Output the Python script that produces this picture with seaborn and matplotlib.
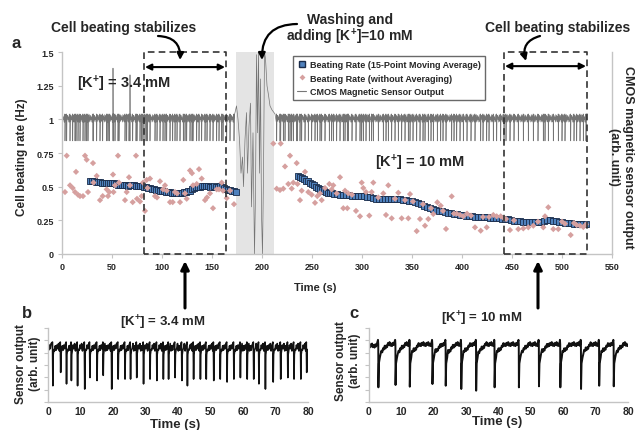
import numpy as np
import pandas as pd
import matplotlib
matplotlib.use('Agg')
import matplotlib.pyplot as plt
import seaborn as sns
from matplotlib.lines import Line2D

# ---------------- data ----------------
# 15-point moving average of beating rate (Hz)
ma_t_left = [28, 30, 32, 34, 36, 38, 40, 42, 44, 46, 48, 50, 52, 54, 56, 58, 60, 62, 64, 66,
             68, 70, 72, 74, 76, 78, 80, 82, 84, 86, 88, 90, 92, 94, 96, 98, 100, 102, 104, 106,
             108, 110, 112, 114, 116, 118, 120, 122, 124, 126, 128, 130, 132, 134, 136, 138, 140,
             142, 144, 146, 148, 150, 152, 154, 156, 158, 160, 162, 164, 166, 168, 170, 172, 173.5]
ma_v_left = [0.545, 0.54, 0.54, 0.535, 0.535, 0.532, 0.53, 0.53, 0.525, 0.528, 0.53, 0.527, 0.525,
             0.52, 0.515, 0.512, 0.51, 0.515, 0.512, 0.505, 0.51, 0.515, 0.51, 0.505, 0.505, 0.507,
             0.505, 0.5, 0.495, 0.49, 0.49, 0.483, 0.48, 0.478, 0.475, 0.47, 0.47, 0.468, 0.463,
             0.46, 0.458, 0.455, 0.455, 0.453, 0.452, 0.45, 0.455, 0.458, 0.46, 0.465, 0.47, 0.48,
             0.488, 0.495, 0.498, 0.5, 0.505, 0.505, 0.507, 0.505, 0.5, 0.5, 0.502, 0.5, 0.5, 0.502,
             0.495, 0.49, 0.483, 0.478, 0.472, 0.468, 0.465, 0.463]
ma_t_right = [236, 238, 240, 242, 244, 246, 248, 250, 252, 254, 256, 258, 260, 262, 264, 266, 268,
              270, 272, 275, 278, 281, 284, 287, 290, 293, 296, 299, 302, 305, 308, 311, 314, 317,
              320, 323, 326, 329, 332, 335, 338, 341, 344, 347, 350, 353, 356, 359, 362, 365, 368,
              371, 374, 377, 380, 383, 386, 389, 392, 395, 398, 401, 404, 407, 410, 413, 416, 419,
              422, 425, 428, 431, 434, 437, 440, 443, 446, 449, 452, 455, 458, 461, 464, 467, 470,
              473, 476, 479, 482, 485, 488, 491, 494, 497, 500, 503, 506, 509, 512, 515, 518, 521, 524]
ma_v_right = [0.577, 0.57, 0.562, 0.555, 0.545, 0.54, 0.53, 0.518, 0.51, 0.5, 0.49, 0.483, 0.475,
              0.468, 0.46, 0.455, 0.452, 0.45, 0.448, 0.445, 0.44, 0.438, 0.437, 0.435, 0.433,
              0.432, 0.43, 0.43, 0.428, 0.425, 0.42, 0.415, 0.41, 0.41, 0.408, 0.408, 0.408, 0.41,
              0.412, 0.41, 0.405, 0.4, 0.398, 0.395, 0.39, 0.385, 0.38, 0.37, 0.36, 0.35, 0.34,
              0.333, 0.328, 0.323, 0.318, 0.313, 0.308, 0.303, 0.299, 0.295, 0.29, 0.287, 0.284,
              0.281, 0.279, 0.277, 0.276, 0.275, 0.273, 0.272, 0.27, 0.268, 0.267, 0.265, 0.263,
              0.261, 0.258, 0.252, 0.247, 0.245, 0.243, 0.24, 0.239, 0.237, 0.236, 0.235, 0.235,
              0.236, 0.247, 0.255, 0.25, 0.245, 0.242, 0.239, 0.236, 0.233, 0.23, 0.227, 0.225,
              0.224, 0.222, 0.221, 0.22]

# beating rate without averaging (Hz) - one point per beat
raw_t_left = [3, 4.7, 8, 10.7, 13, 14, 16, 18, 21, 23, 24.7, 26, 31, 31.5, 34.7, 38, 40.7, 44.7,
              46, 47.3, 51, 51.5, 53, 56, 57, 63, 64.7, 67, 68, 70.7, 74, 75, 78, 79.7, 81, 83,
              84.7, 85.5, 88, 93, 95, 98, 101, 103, 104.7, 108, 110.7, 113, 115, 118, 121.3, 123,
              124.7, 128, 130, 131, 134.7, 137, 139.7, 143, 145, 148, 151, 154.7, 157, 159.7,
              161, 164.7, 168, 172]
raw_v_left = [0.46, 0.73, 0.51, 0.49, 0.46, 0.61, 0.44, 0.43, 0.43, 0.73, 0.70, 0.46, 0.675, 0.53,
              0.58, 0.40, 0.43, 0.48, 0.43, 0.46, 0.59, 0.46, 0.51, 0.73, 0.53, 0.40, 0.46, 0.57,
              0.51, 0.385, 0.73, 0.41, 0.39, 0.43, 0.53, 0.32, 0.55, 0.49, 0.56, 0.43, 0.42, 0.54,
              0.48, 0.51, 0.47, 0.385, 0.385, 0.46, 0.45, 0.385, 0.55, 0.45, 0.41, 0.62, 0.60,
              0.51, 0.52, 0.63, 0.56, 0.40, 0.42, 0.45, 0.34, 0.48, 0.48, 0.53, 0.47, 0.415, 0.47,
              0.37]
raw_t_right = [211.3, 214.7, 218, 218.7, 221.3, 223, 226.3, 228, 229.7, 231.3, 234.7, 235.5, 238,
               239.7, 243, 246.3, 249.7, 253, 255.3, 258, 259.7, 263, 267.3, 269.7, 271.3, 274.7,
               278, 281.3, 283, 285.3, 286.3, 290, 294, 298, 299.7, 301.3, 304, 307.3, 309.7,
               311.3, 316.3, 321.3, 324, 326.3, 329.7, 333, 336.3, 339.7, 343, 346.3, 348, 351,
               354.7, 358, 361, 363, 366.3, 369, 371.3, 375.3, 378.7, 381, 384, 389.7, 392,
               394.7, 398, 401.3, 405, 409, 413, 418.7, 421, 424.7, 427, 431.3, 434.7, 438.7,
               442, 444, 448, 452, 456.3, 461.3, 466.3, 471.3, 476, 481.3, 483, 486.3, 491.3,
               496.3, 500, 503, 508.7, 512, 514.7, 518, 521.3, 524]
raw_v_right = [0.82, 0.485, 0.475, 0.82, 0.485, 0.65, 0.52, 0.73, 0.486, 0.53, 0.675, 0.52, 0.40,
               0.47, 0.61, 0.46, 0.44, 0.38, 0.43, 0.45, 0.40, 0.49, 0.52, 0.48, 0.51, 0.45, 0.57,
               0.34, 0.47, 0.34, 0.45, 0.44, 0.32, 0.28, 0.53, 0.49, 0.46, 0.285, 0.46, 0.53,
               0.42, 0.45, 0.29, 0.51, 0.265, 0.41, 0.455, 0.265, 0.40, 0.265, 0.445, 0.39, 0.17,
               0.26, 0.37, 0.21, 0.26, 0.34, 0.297, 0.384, 0.359, 0.32, 0.186, 0.428, 0.30, 0.30,
               0.29, 0.28, 0.30, 0.285, 0.198, 0.173, 0.275, 0.198, 0.275, 0.29, 0.28, 0.28,
               0.265, 0.26, 0.178, 0.25, 0.185, 0.19, 0.198, 0.21, 0.24, 0.198, 0.28, 0.347,
               0.185, 0.185, 0.24, 0.225, 0.141, 0.23, 0.215, 0.21, 0.2, 0.22]

# CMOS sensor output (arb. unit, drawn on rate axis scale)
cmos_baseline = 1.0
cmos_spike_min = 0.84
cmos_noise_levels = [0.985, 1.03, 0.995, 1.02, 0.98, 1.035]
cmos_up_t = [51, 68]
cmos_up_v = [1.38, 1.33]
wash_t = [173, 174.5, 176, 177.5, 179, 180.5, 181.5, 183, 184.5, 185.5, 187, 188.5, 189.5, 191,
          192.5, 193.5, 194.5, 195.5, 196.5, 197.5, 198.5, 199.5, 200.5, 201.5, 202.5, 203.5,
          205, 206.5, 208, 210, 213]
wash_v = [1.05, 1.1, 1.0, 0.85, 0.6, 0.72, 0.5, 0.85, 1.05, 0.6, 0.95, 1.12, 0.35, 0.9, 0.0,
          0.45, 1.48, 0.9, 1.5, 0.6, 1.3, 0.3, 0.0, 0.6, 1.5, 1.45, 1.25, 1.18, 1.1, 1.07, 1.04]

# panel b: [K+] = 3.4 mM
b_t = [1.5, 3.9, 5.7, 7.2, 9.1, 11.3, 12.9, 15.1, 17.0, 19.6, 21.6, 23.7, 25.4, 27.3, 29.4,
       31.4, 33.5, 35.5, 37.1, 39.1, 41.2, 42.9, 44.8, 46.9, 48.7, 51.0, 53.0, 55.1, 57.2, 59.2,
       61.3, 63.3, 64.9, 66.9, 69.3, 71.6, 73.8, 75.7, 77.8, 79.6]
b_min = [0.22, 0.40, 0.245, 0.29, 0.22, 0.175, 0.33, 0.29, 0.36, 0.175, 0.31, 0.31, 0.31, 0.33,
         0.245, 0.31, 0.29, 0.31, 0.31, 0.33, 0.29, 0.22, 0.31, 0.31, 0.31, 0.29, 0.31, 0.27,
         0.31, 0.33, 0.31, 0.31, 0.245, 0.175, 0.27, 0.31, 0.33, 0.31, 0.31, 0.40]
b_noise_levels = [0.70, 0.77, 0.72, 0.79, 0.69, 0.76]
# panel c: [K+] = 10 mM
c_t = [2.9, 8.2, 12.6, 19.6, 23.7, 28.5, 33.1, 38.8, 46.3, 52.5, 59.1, 65.5, 71.1, 75.6]
c_min = [0.198, 0.23, 0.207, 0.243, 0.22, 0.176, 0.153, 0.198, 0.198, 0.212, 0.198, 0.176,
         0.22, 0.212]
c_noise = [-0.025, 0.02, -0.01, 0.03, -0.02, 0.01]

main_xticks = list(range(0, 551, 50))
main_yticks = [0, 0.25, 0.5, 0.75, 1, 1.25, 1.5]
main_yticklabels = ['0', '0.25', '0.5', '0.75', '1', '1.25', '1.5']
small_xticks = list(range(0, 81, 10))

# ---------------- style ----------------
sns.set_theme(style='white')
plt.rcParams['font.family'] = ['Liberation Sans', 'DejaVu Sans']
plt.rcParams['font.weight'] = 'bold'
plt.rcParams['mathtext.fontset'] = 'custom'
plt.rcParams['mathtext.rm'] = 'Liberation Sans:bold'
plt.rcParams['mathtext.bf'] = 'Liberation Sans:bold'
plt.rcParams['mathtext.it'] = 'Liberation Sans:bold'

W, H = 636, 431
fig = plt.figure(figsize=(W / 100, H / 100), dpi=100)


def fx(x):
    return x / W


def fy(y):
    return 1 - y / H


def P(x, y):
    return (fx(x), fy(y))


SPINE = '#c4c4c4'

# ---------------- main panel a ----------------
ax = fig.add_axes([fx(62), fy(255), fx(612) - fx(62), fy(53) - fy(255)])
ax.axvspan(174, 212, color='#e4e4e4', lw=0, zorder=0)

# build CMOS trace from the beat times (spike per beat + fuzzy baseline in between)
beats = [t for t in raw_t_left + raw_t_right if not (172.5 < t < 213.5)]
pts = [(0.0, cmos_baseline)]
k = 0
for s in np.arange(0.3, beats[0] - 0.5, 0.45):
    pts.append((s, cmos_noise_levels[k % len(cmos_noise_levels)]))
    k += 1
for i, t in enumerate(beats):
    pts += [(t - 0.4, 0.98), (t - 0.1, 1.04), (t, cmos_spike_min), (t + 0.3, 1.03)]
    nxt = beats[i + 1] if i + 1 < len(beats) else 525.0
    if nxt - t > 20:
        nxt = 173.0
    for s in np.arange(t + 0.7, nxt - 0.5, 0.45):
        pts.append((s, cmos_noise_levels[k % len(cmos_noise_levels)]))
        k += 1
for t, v in zip(cmos_up_t, cmos_up_v):
    pts += [(t - 0.05, 1.0), (t, v), (t + 0.05, 1.0)]
pts += list(zip(wash_t, wash_v))
pts.append((525.0, cmos_baseline))
pts.sort(key=lambda p: p[0])
cmos = pd.DataFrame(pts, columns=['t', 'v'])
sns.lineplot(data=cmos, x='t', y='v', ax=ax, color='#747474', lw=0.5, estimator=None,
             sort=False, zorder=1)

ma = pd.DataFrame({'t': ma_t_left + ma_t_right, 'v': ma_v_left + ma_v_right})
raw = pd.DataFrame({'t': raw_t_left + raw_t_right, 'v': raw_v_left + raw_v_right})
sns.scatterplot(data=ma, x='t', y='v', ax=ax, marker='s', s=20, color='#4F81BD',
                edgecolor='#1a2c4a', linewidth=0.6, zorder=3)
sns.scatterplot(data=raw, x='t', y='v', ax=ax, marker='D', s=10, color='#D6A09F',
                edgecolor='none', zorder=4)

ax.set_xlim(0, 550)
ax.set_ylim(0, 1.5)
ax.set_xticks(main_xticks)
ax.set_yticks(main_yticks)
ax.set_yticklabels(main_yticklabels)
ax.set_xlabel('')
ax.set_ylabel('')
ax.tick_params(labelsize=6.5, length=3, width=0.8, color=SPINE, left=True, bottom=True, pad=3)
for s in ['left', 'bottom', 'right']:
    ax.spines[s].set_color(SPINE)
    ax.spines[s].set_linewidth(1.0)
ax.spines['top'].set_visible(False)

# dashed boxes
for x0, x1 in [(82, 164), (442, 525)]:
    ax.plot([x0, x0, x1, x1, x0], [0, 1.5, 1.5, 0, 0], ls=(0, (4, 2.5)), color='#333333',
            lw=1.2, zorder=5, clip_on=False)
# double arrows
for x0, x1, yv in [(83, 163, 1.388), (443, 524, 1.395)]:
    ax.annotate('', xy=(x1, yv), xytext=(x0, yv),
                arrowprops=dict(arrowstyle='<|-|>', color='black', lw=1.5, mutation_scale=9,
                                shrinkA=0, shrinkB=0))

# legend
handles = [
    Line2D([0], [0], marker='s', ls='none', markerfacecolor='#4F81BD',
           markeredgecolor='#1a2c4a', markersize=4),
    Line2D([0], [0], marker='D', ls='none', markerfacecolor='#D6A09F',
           markeredgecolor='none', markersize=3),
    Line2D([0], [0], color='#777777', lw=0.8),
]
labels = ['Beating Rate (15-Point Moving Average)', 'Beating Rate (without Averaging)',
          'CMOS Magnetic Sensor Output']
leg = fig.legend(handles, labels, loc='upper left', bbox_to_anchor=P(293, 57),
                 prop={'weight': 'bold', 'size': 6.5}, frameon=True, fancybox=False,
                 edgecolor='#444444', borderpad=0.45, handlelength=1.0, handletextpad=0.4,
                 labelspacing=0.5, borderaxespad=0)
leg.get_frame().set_linewidth(1.0)

# texts
fig.text(*P(12, 44), 'a', fontsize=12, fontweight='bold', ha='left', va='center')
fig.text(*P(124, 28), 'Cell beating stabilizes', fontsize=10, fontweight='bold',
         ha='center', va='center')
fig.text(*P(558, 28), 'Cell beating stabilizes', fontsize=10, fontweight='bold',
         ha='center', va='center')
fig.text(*P(350, 20), 'Washing and', fontsize=10, fontweight='bold', ha='center', va='center')
fig.text(*P(350, 37), r'adding [K$^{+}$]=10 mM', fontsize=10, fontweight='bold',
         ha='center', va='center')
fig.text(*P(124, 84), r'[K$^{+}$] = 3.4 mM', fontsize=10.5, fontweight='bold',
         ha='center', va='center')
fig.text(*P(420, 163), r'[K$^{+}$] = 10 mM', fontsize=10.5, fontweight='bold',
         ha='center', va='center')
fig.text(*P(315, 288), 'Time (s)', fontsize=8, fontweight='bold', ha='center', va='center')
fig.text(*P(22, 157), 'Cell beating rate (Hz)', fontsize=8.5, fontweight='bold',
         ha='center', va='center', rotation=90)
fig.text(*P(621, 157), 'CMOS magnetic sensor output\n(arb. unit)', fontsize=9,
         fontweight='bold', ha='center', va='center', rotation=270, multialignment='center')

# curved arrows
arw = dict(arrowstyle='-|>', color='black', lw=1.6, mutation_scale=10, shrinkA=0, shrinkB=0)
fig.add_artist(matplotlib.patches.FancyArrowPatch(P(158, 37), P(180, 61),
               connectionstyle='arc3,rad=-0.5', transform=fig.transFigure, **arw))
fig.add_artist(matplotlib.patches.FancyArrowPatch(P(297, 25), P(262, 61),
               connectionstyle='arc3,rad=0.5', transform=fig.transFigure, **arw))
fig.add_artist(matplotlib.patches.FancyArrowPatch(P(540, 37), P(526, 62),
               connectionstyle='arc3,rad=0.5', transform=fig.transFigure, **arw))
arw2 = dict(arrowstyle='-|>', color='black', lw=2.2, mutation_scale=12, shrinkA=0, shrinkB=0)
fig.add_artist(matplotlib.patches.FancyArrowPatch(P(185, 309), P(185, 262),
               transform=fig.transFigure, **arw2))
fig.add_artist(matplotlib.patches.FancyArrowPatch(P(538, 309), P(538, 262),
               transform=fig.transFigure, **arw2))


# ---------------- panels b, c ----------------
def build_b(times, mins):
    p = [(0.0, 0.73)]
    k = 0
    for s in np.arange(0.2, times[0] - 0.35, 0.25):
        p.append((s, b_noise_levels[k % len(b_noise_levels)]))
        k += 1
    for i, (t, d) in enumerate(zip(times, mins)):
        p += [(t - 0.12, 0.81), (t, d), (t + 0.1, 0.64), (t + 0.3, 0.71)]
        nxt = times[i + 1] if i + 1 < len(times) else 80.0
        for s in np.arange(t + 0.5, nxt - 0.25, 0.25):
            p.append((s, b_noise_levels[k % len(b_noise_levels)]))
            k += 1
    p = sorted(p, key=lambda q: q[0])
    return pd.DataFrame([q for q in p if 0 <= q[0] <= 80], columns=['t', 'v'])


def build_c(times, mins):
    p = [(0.0, 0.76)]
    k = 0
    for s in np.arange(0.2, times[0] - 0.2, 0.25):
        p.append((s, 0.76 + c_noise[k % len(c_noise)]))
        k += 1
    for i, (t, d) in enumerate(zip(times, mins)):
        p += [(t - 0.12, 0.84), (t - 0.04, 0.78), (t, d), (t + 0.15, 0.52), (t + 0.45, 0.6)]
        nxt = times[i + 1] if i + 1 < len(times) else 80.0
        for s in np.arange(t + 0.7, nxt - 0.15, 0.25):
            frac = min(1.0, (s - t) / 3.0)
            p.append((s, 0.64 + 0.14 * frac + c_noise[k % len(c_noise)]))
            k += 1
    p = sorted(p, key=lambda q: q[0])
    return pd.DataFrame([q for q in p if 0 <= q[0] <= 80], columns=['t', 'v'])


def style_small(a):
    a.set_xlim(0, 80)
    a.set_ylim(0, 1)
    a.set_xticks(small_xticks)
    a.set_yticks(np.linspace(0, 1, 7))
    a.set_yticklabels([])
    a.set_xlabel('')
    a.set_ylabel('')
    a.tick_params(axis='x', labelsize=7.5, length=0, pad=3)
    a.tick_params(axis='y', length=3, width=0.8, color=SPINE, left=True)
    for s in ['left', 'bottom']:
        a.spines[s].set_color(SPINE)
        a.spines[s].set_linewidth(1.0)
    a.spines['top'].set_visible(False)
    a.spines['right'].set_visible(False)


axb = fig.add_axes([fx(48), fy(403), fx(308) - fx(48), fy(329) - fy(403)])
sns.lineplot(data=build_b(b_t, b_min), x='t', y='v', ax=axb, color='#111111', lw=1.15,
             estimator=None, sort=False)
style_small(axb)

axc = fig.add_axes([fx(369), fy(403), fx(628) - fx(369), fy(329) - fy(403)])
sns.lineplot(data=build_c(c_t, c_min), x='t', y='v', ax=axc, color='#111111', lw=1.4,
             estimator=None, sort=False)
style_small(axc)

fig.text(*P(27, 313), 'b', fontsize=12, fontweight='bold', ha='center', va='center')
fig.text(*P(354, 313), 'c', fontsize=12, fontweight='bold', ha='center', va='center')
fig.text(*P(163, 323), r'[K$^{+}$] = 3.4 mM', fontsize=9.5, fontweight='bold',
         ha='center', va='center')
fig.text(*P(482, 319), r'[K$^{+}$] = 10 mM', fontsize=9.5, fontweight='bold',
         ha='center', va='center')
fig.text(*P(175, 425), 'Time (s)', fontsize=9.5, fontweight='bold', ha='center', va='center')
fig.text(*P(497, 422), 'Time (s)', fontsize=9.5, fontweight='bold', ha='center', va='center')
fig.text(*P(28, 364), 'Sensor output\n(arb. unit)', fontsize=8.5, fontweight='bold',
         ha='center', va='center', rotation=90, multialignment='center')
fig.text(*P(348, 361), 'Sensor output\n(arb. unit)', fontsize=8.5, fontweight='bold',
         ha='center', va='center', rotation=90, multialignment='center')

fig.savefig('out.png', dpi=100)
